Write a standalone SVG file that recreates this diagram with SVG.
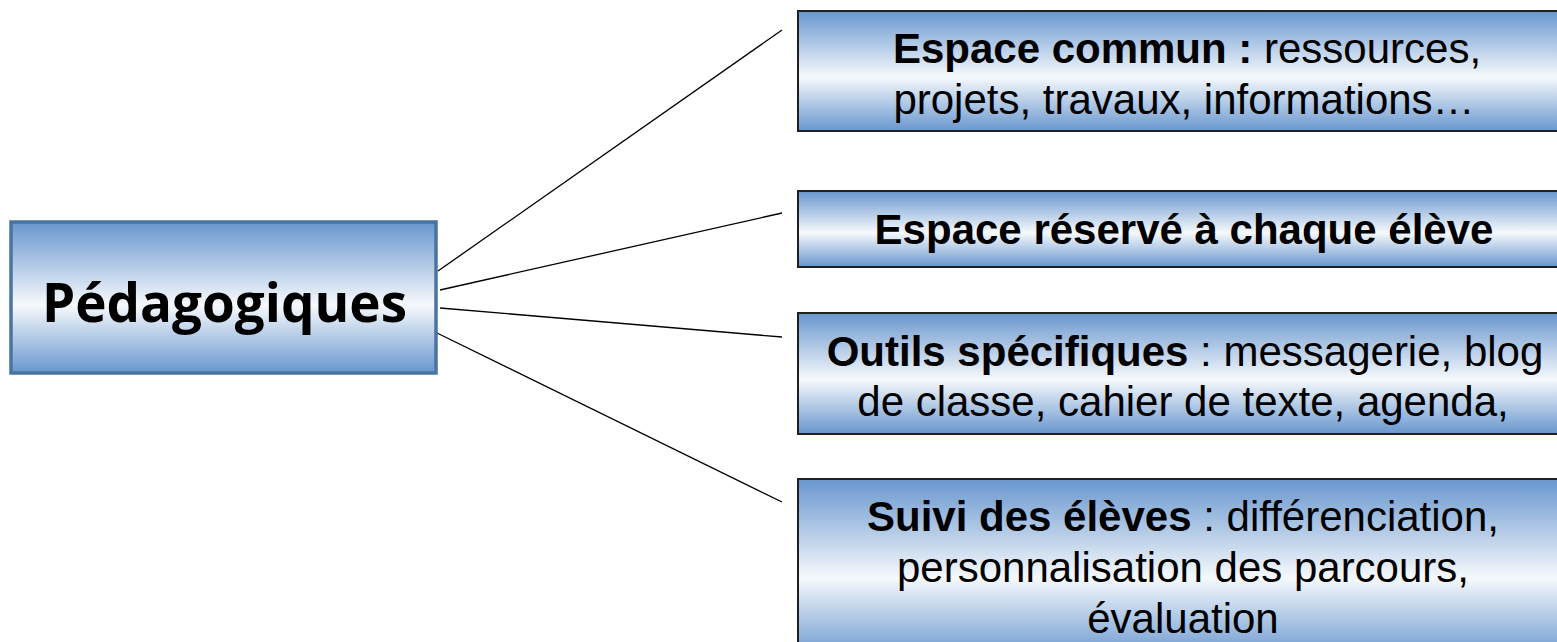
<svg xmlns="http://www.w3.org/2000/svg" width="1557" height="642" viewBox="0 0 1557 642">
<defs>
<linearGradient id="g" x1="0" y1="0" x2="0" y2="1">
<stop offset="0" stop-color="#6896ce"/>
<stop offset="0.55" stop-color="#f6f9fc"/>
<stop offset="1" stop-color="#6896ce"/>
</linearGradient>
<style>
.rb{fill:url(#g);stroke:#1f1f1f;stroke-width:2}
.lb{fill:url(#g);stroke:#4a74a0;stroke-width:3.5}
.t{font-family:"Liberation Sans",Arial,sans-serif;font-size:42px;fill:#000;text-anchor:middle}
.b{font-weight:bold}
.c{stroke:#000;stroke-width:1.3;fill:none}
</style>
</defs>
<g id="connectors">
<line class="c" x1="438" y1="271" x2="782" y2="30"/>
<line class="c" x1="440" y1="290" x2="782" y2="213"/>
<line class="c" x1="440" y1="308" x2="782" y2="337"/>
<line class="c" x1="437" y1="333" x2="782" y2="502"/>
</g>
<g id="n0">
<rect class="lb" x="11" y="222" width="425" height="151"/>
<text x="224.5" y="322" font-family="'Open Sans','Noto Sans',sans-serif" font-weight="bold" font-size="53" text-anchor="middle">Pédagogiques</text>
</g>
<g id="n1">
<rect class="rb" x="798" y="11" width="780" height="120"/>
<text class="t" x="1187" y="63"><tspan class="b">Espace commun :</tspan> ressources,</text>
<text class="t" x="1184" y="114">projets, travaux, informations…</text>
</g>
<g id="n2">
<rect class="rb" x="798" y="191" width="780" height="76"/>
<text class="t b" x="1184" y="244">Espace réservé à chaque élève</text>
</g>
<g id="n3">
<rect class="rb" x="798" y="313" width="780" height="121"/>
<text class="t" x="1185" y="366"><tspan class="b">Outils spécifiques</tspan> : messagerie, blog</text>
<text class="t" x="1183" y="416">de classe, cahier de texte, agenda,</text>
</g>
<g id="n4">
<rect class="rb" x="798" y="479" width="780" height="180"/>
<text class="t" x="1183" y="531"><tspan class="b">Suivi des élèves</tspan> : différenciation,</text>
<text class="t" x="1183" y="582">personnalisation des parcours,</text>
<text class="t" x="1183" y="633">évaluation</text>
</g>
</svg>
